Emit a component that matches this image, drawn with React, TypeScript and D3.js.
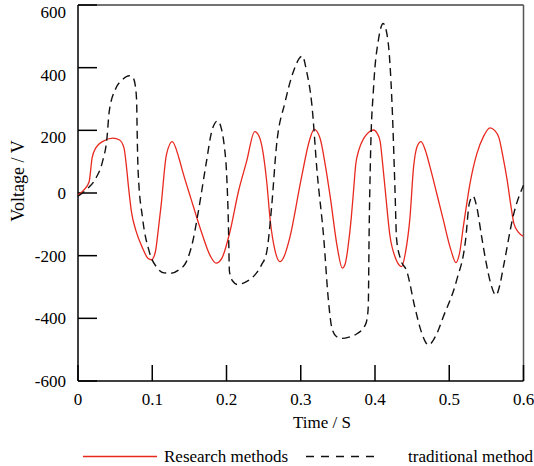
import React from 'react';
import * as d3 from 'd3';

// Research methods (red, solid)
const researchTime = [0, 0.008, 0.015, 0.019, 0.024, 0.033, 0.047, 0.056, 0.062, 0.065, 0.068, 0.072, 0.078, 0.087, 0.094, 0.099, 0.104, 0.108, 0.112, 0.119, 0.127, 0.136, 0.141, 0.152, 0.166, 0.178, 0.186, 0.194, 0.205, 0.216, 0.227, 0.238, 0.244, 0.249, 0.254, 0.259, 0.265, 0.272, 0.278, 0.285, 0.301, 0.312, 0.318, 0.326, 0.333, 0.34, 0.349, 0.356, 0.36, 0.364, 0.368, 0.371, 0.374, 0.378, 0.385, 0.392, 0.398, 0.403, 0.407, 0.41, 0.414, 0.42, 0.428, 0.436, 0.441, 0.447, 0.452, 0.457, 0.462, 0.468, 0.474, 0.483, 0.492, 0.502, 0.509, 0.514, 0.519, 0.528, 0.537, 0.546, 0.555, 0.561, 0.567, 0.572, 0.578, 0.583, 0.587, 0.593, 0.6];
const researchVolt = [-6, 10, 36, 112, 144, 164, 175, 169, 143, 90, 20, -60, -120, -176, -208, -213, -190, -120, -38, 121, 164, 111, 68, -17, -123, -200, -224, -207, -120, 4, 100, 196, 180, 132, 40, -90, -180, -219, -200, -145, 50, 170, 203, 175, 90, -17, -170, -240, -225, -166, -80, 4, 90, 135, 175, 195, 201, 190, 164, 100, 4, -134, -210, -235, -190, -81, 84, 150, 164, 135, 84, 0, -86, -180, -222, -190, -107, 31, 124, 180, 208, 200, 176, 120, 41, -40, -97, -125, -139];

// traditional method (black, dashed)
const traditionalTime = [0, 0.011, 0.024, 0.033, 0.039, 0.042, 0.051, 0.06, 0.069, 0.074, 0.077, 0.079, 0.0795, 0.08, 0.081, 0.087, 0.096, 0.107, 0.116, 0.125, 0.136, 0.146, 0.155, 0.162, 0.173, 0.18, 0.188, 0.193, 0.197, 0.2, 0.2025, 0.204, 0.208, 0.215, 0.225, 0.238, 0.247, 0.254, 0.261, 0.267, 0.279, 0.29, 0.302, 0.308, 0.315, 0.322, 0.331, 0.337, 0.342, 0.348, 0.355, 0.365, 0.373, 0.387, 0.39, 0.391, 0.392, 0.394, 0.398, 0.405, 0.411, 0.417, 0.423, 0.427, 0.429, 0.434, 0.443, 0.454, 0.462, 0.472, 0.482, 0.492, 0.51, 0.522, 0.527, 0.532, 0.537, 0.543, 0.549, 0.556, 0.563, 0.568, 0.573, 0.587, 0.6];
const traditionalVolt = [-10, 10, 47, 100, 175, 259, 334, 362, 374, 368, 345, 291, 220, 153, 68, -81, -187, -240, -255, -256, -245, -219, -150, -60, 100, 196, 230, 206, 150, 68, -92, -251, -280, -292, -285, -262, -230, -190, -38, 143, 291, 387, 437, 387, 281, 68, -145, -336, -432, -458, -464, -460, -453, -421, -390, -357, -145, 121, 334, 494, 541, 494, 281, 4, -145, -208, -251, -368, -440, -485, -455, -395, -278, -150, -33, -10, -44, -130, -214, -290, -326, -295, -235, -65, 25];

const xTicks = [0, 0.1, 0.2, 0.3, 0.4, 0.5, 0.6];
const yTicks = [-600, -400, -200, 0, 200, 400, 600];
const xTitle = 'Time / S';
const yTitle = 'Voltage / V';
const seriesNames = ['Research methods', 'traditional method'];

const W = 534;
const H = 466;
const left = 78, right = 523.5, top = 5, bottom = 381;
const font = "'Liberation Serif', 'DejaVu Serif', serif";
const RED = '#e8291f';

export default function App() {
  const x = d3.scaleLinear().domain([0, 0.6]).range([left, right]);
  const y = d3.scaleLinear().domain([-600, 600]).range([bottom, top]);

  const line = d3.line<[number, number]>()
    .x(d => x(d[0]))
    .y(d => y(d[1]))
    .curve(d3.curveMonotoneX);

  const research = researchTime.map((t, i) => [t, researchVolt[i]] as [number, number]);
  const traditional = traditionalTime.map((t, i) => [t, traditionalVolt[i]] as [number, number]);

  const txt = {fontFamily: font, fontSize: '17px'};

  return (
    <svg width={W} height={H} style={{position: 'absolute', left: 0, top: 0}}>
      <rect width={W} height={H} fill="white" />
      {/* frame */}
      <line x1={left} x2={right} y1={top} y2={top} stroke="#444" strokeWidth={1.3} />
      <line x1={right} x2={right} y1={top} y2={bottom} stroke="#555" strokeWidth={1.5} />
      <line x1={left} x2={right} y1={bottom} y2={bottom} stroke="#000" strokeWidth={1.5} />
      <line x1={left} x2={left} y1={top} y2={bottom} stroke="#000" strokeWidth={1.5} />

      {yTicks.map(v => (
        <g key={'y' + v}>
          <line x1={left} x2={left + 19} y1={y(v)} y2={y(v)} stroke="#000" strokeWidth={1.5} />
          <text x={66} y={y(v) + (v > 0 ? 7 : 0)} dy="0.35em" textAnchor="end" style={txt}>{v}</text>
        </g>
      ))}
      {xTicks.map(t => (
        <g key={'x' + t}>
          <line x1={x(t)} x2={x(t)} y1={bottom} y2={bottom - 16} stroke="#000" strokeWidth={1.5} />
          <text x={x(t)} y={405} textAnchor="middle" style={txt}>{t}</text>
        </g>
      ))}

      <text x={322} y={428} textAnchor="middle" style={txt}>{xTitle}</text>
      <text transform={`translate(24,181) rotate(-90)`} textAnchor="middle" style={{...txt, fontSize: '18px'}}>{yTitle}</text>

      <path d={line(research) || ''} fill="none" stroke={RED} strokeWidth={1.3} />
      <path d={line(traditional) || ''} fill="none" stroke="#111" strokeWidth={1.4} strokeDasharray="8,5" />

      {/* legend */}
      <line x1={83} x2={157} y1={456.5} y2={456.5} stroke={RED} strokeWidth={1.3} />
      <text x={164} y={461.5} style={txt}>{seriesNames[0]}</text>
      <line x1={306} x2={378} y1={456.5} y2={456.5} stroke="#111" strokeWidth={1.4} strokeDasharray="8,7" />
      <text x={408} y={461.5} style={txt}>{seriesNames[1]}</text>
    </svg>
  );
}
